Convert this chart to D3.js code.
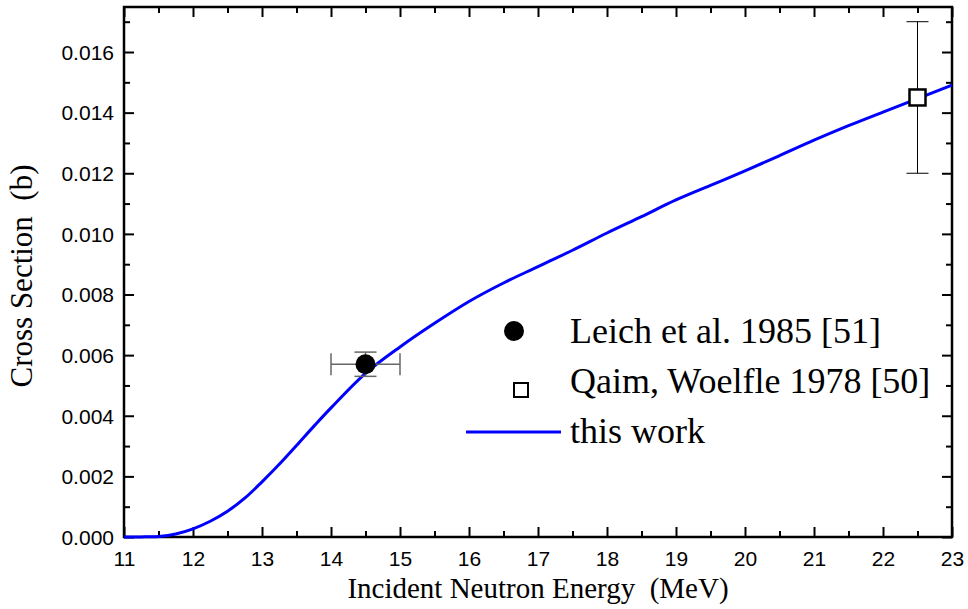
<!DOCTYPE html>
<html>
<head>
<meta charset="utf-8">
<script src="https://cdn.jsdelivr.net/npm/d3@7"></script>
<style>
  body { margin: 0; background: #fff; }
  text { white-space: pre; }
</style>
</head>
<body>
<script>
// curve "this work"
var energy = [11, 11.25, 11.5, 11.75, 12, 12.25, 12.5, 12.75, 13, 13.25, 13.5, 13.75, 14, 14.5, 15, 15.5, 16, 16.5, 17, 17.5, 18, 18.5, 19, 19.5, 20, 20.5, 21, 21.5, 22, 22.5, 23];
var xs = [0, 0.000003, 0.00002, 0.0001, 0.00027, 0.00052, 0.00085, 0.00128, 0.00182, 0.0024, 0.00302, 0.00365, 0.00426, 0.0054, 0.00627, 0.00705, 0.00777, 0.00838, 0.00892, 0.00946, 0.01003, 0.01057, 0.01112, 0.0116, 0.01208, 0.01258, 0.01309, 0.01357, 0.01402, 0.01446, 0.01491];

// experimental points
var leich = [{x: 14.5, y: 0.0057, dx: 0.5, dy: 0.0004}];
var qaim = [{x: 22.5, y: 0.0145, dx: 0, dy: 0.0025}];

var xTicks = [11, 12, 13, 14, 15, 16, 17, 18, 19, 20, 21, 22, 23];
var yTicks = [0, 0.002, 0.004, 0.006, 0.008, 0.010, 0.012, 0.014, 0.016];

var legendLabels = ["Leich et al. 1985 [51]", "Qaim, Woelfle 1978 [50]", "this work"];

var svgWidth = 968, svgHeight = 609;
var margin = {top: 7, right: 16, bottom: 72, left: 124};
var width = svgWidth - margin.left - margin.right;
var height = svgHeight - margin.top - margin.bottom;

var svg = d3.select("body").append("svg")
  .attr("width", svgWidth)
  .attr("height", svgHeight);

var chartGroup = svg.append("g")
  .attr("transform", `translate(${margin.left}, ${margin.top})`);

var x = d3.scaleLinear().domain([11, 23]).range([0, width]);
var y = d3.scaleLinear().domain([0, 0.017485]).range([height, 0]);

var minorX = d3.range(11.5, 23, 1);
var minorY = d3.range(0.001, 0.0175, 0.002);

// ticks (inward) on all four sides
function tickAxis(axisFn, scale, vals, size, fmt) {
  return axisFn(scale).tickValues(vals).tickSize(size).tickPadding(0).tickFormat(fmt || "");
}

chartGroup.append("g").attr("transform", `translate(0, ${height})`)
  .call(d3.axisBottom(x).tickValues(xTicks).tickSize(-10).tickPadding(14).tickFormat(d3.format("d")));
chartGroup.append("g").attr("transform", `translate(0, ${height})`)
  .call(tickAxis(d3.axisBottom, x, minorX, -6));
chartGroup.append("g")
  .call(tickAxis(d3.axisTop, x, xTicks, -10));
chartGroup.append("g")
  .call(tickAxis(d3.axisTop, x, minorX, -6));

var leftMajor = chartGroup.append("g")
  .call(d3.axisLeft(y).tickValues(yTicks).tickSize(-10).tickPadding(10).tickFormat(d3.format(".3f")));
chartGroup.append("g")
  .call(tickAxis(d3.axisLeft, y, minorY, -6));
chartGroup.append("g").attr("transform", `translate(${width}, 0)`)
  .call(tickAxis(d3.axisRight, y, yTicks, -10));
chartGroup.append("g").attr("transform", `translate(${width}, 0)`)
  .call(tickAxis(d3.axisRight, y, minorY, -6));

chartGroup.selectAll(".domain").remove();
chartGroup.selectAll(".tick line").attr("stroke", "#000").attr("stroke-width", 2);
chartGroup.selectAll(".tick text")
  .attr("font-family", "'Liberation Sans', Arial, sans-serif")
  .attr("font-size", "21px")
  .attr("fill", "#000");
leftMajor.selectAll(".tick text").attr("dy", "0.35em");

// frame
chartGroup.append("rect")
  .attr("width", width).attr("height", height)
  .attr("fill", "none").attr("stroke", "#000").attr("stroke-width", 2.5);

// curve
var line = d3.line()
  .x(function(d, i) { return x(energy[i]); })
  .y(function(d) { return y(d); })
  .curve(d3.curveCatmullRom);

chartGroup.append("path")
  .datum(xs)
  .attr("d", line)
  .attr("fill", "none")
  .attr("stroke", "#0000ff")
  .attr("stroke-width", 3);

// error bars
function errorBars(data, capW, color, sw) {
  var g = chartGroup.append("g").attr("stroke", color).attr("stroke-width", sw);
  data.forEach(function(d) {
    g.append("line").attr("x1", x(d.x)).attr("x2", x(d.x)).attr("y1", y(d.y - d.dy)).attr("y2", y(d.y + d.dy));
    g.append("line").attr("x1", x(d.x) - capW).attr("x2", x(d.x) + capW).attr("y1", y(d.y - d.dy)).attr("y2", y(d.y - d.dy));
    g.append("line").attr("x1", x(d.x) - capW).attr("x2", x(d.x) + capW).attr("y1", y(d.y + d.dy)).attr("y2", y(d.y + d.dy));
    if (d.dx > 0) {
      g.append("line").attr("x1", x(d.x - d.dx)).attr("x2", x(d.x + d.dx)).attr("y1", y(d.y)).attr("y2", y(d.y));
      g.append("line").attr("x1", x(d.x - d.dx)).attr("x2", x(d.x - d.dx)).attr("y1", y(d.y) - 11).attr("y2", y(d.y) + 11);
      g.append("line").attr("x1", x(d.x + d.dx)).attr("x2", x(d.x + d.dx)).attr("y1", y(d.y) - 11).attr("y2", y(d.y) + 11);
    }
  });
}
errorBars(leich, 11, "#666", 1.5);
errorBars(qaim, 11, "#000", 1);

chartGroup.selectAll(".leich")
  .data(leich).enter().append("circle")
  .attr("cx", d => x(d.x)).attr("cy", d => y(d.y))
  .attr("r", 10).attr("fill", "#000");

chartGroup.selectAll(".qaim")
  .data(qaim).enter().append("rect")
  .attr("x", d => x(d.x) - 8).attr("y", d => y(d.y) - 8)
  .attr("width", 16).attr("height", 16)
  .attr("fill", "#fff").attr("stroke", "#000").attr("stroke-width", 2.5);

// legend
var legend = svg.append("g").attr("font-family", "'Liberation Serif', 'Times New Roman', serif").attr("font-size", "36px");
legend.append("circle").attr("cx", 514).attr("cy", 331).attr("r", 10).attr("fill", "#000");
legend.append("rect").attr("x", 514).attr("y", 383).attr("width", 14).attr("height", 14)
  .attr("fill", "#fff").attr("stroke", "#000").attr("stroke-width", 2);
legend.append("line").attr("x1", 466).attr("x2", 561).attr("y1", 432).attr("y2", 432)
  .attr("stroke", "#0000ff").attr("stroke-width", 3);
legend.selectAll("text")
  .data(legendLabels).enter().append("text")
  .attr("x", 570)
  .attr("y", (d, i) => 343 + i * 50)
  .text(d => d);

// axis titles
svg.append("text")
  .attr("x", 538)
  .attr("y", 598)
  .attr("text-anchor", "middle")
  .attr("font-family", "'Liberation Serif', 'Times New Roman', serif")
  .attr("font-size", "29px")
  .text("Incident Neutron Energy  (MeV)");

svg.append("text")
  .attr("transform", "translate(32, 276) rotate(-90)")
  .attr("text-anchor", "middle")
  .attr("font-family", "'Liberation Serif', 'Times New Roman', serif")
  .attr("font-size", "31px")
  .text("Cross Section  (b)");
</script>
</body>
</html>
